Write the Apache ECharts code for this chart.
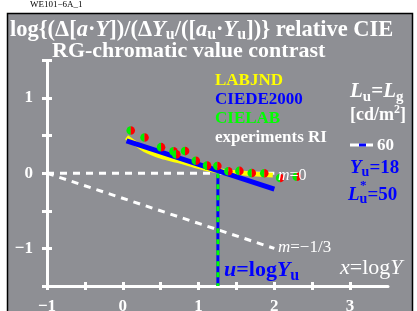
<!DOCTYPE html>
<html>
<head>
<meta charset="utf-8">
<script src="https://cdn.jsdelivr.net/npm/echarts@6/dist/echarts.min.js"></script>
<style>
  html, body { margin: 0; padding: 0; background: #ffffff; }
  #main { width: 417px; height: 311px; }
</style>
</head>
<body>
<div id="main"></div>
<script>
// axis ticks and labels
var xTicks = [-1, -0.5, 0, 0.5, 1, 1.5, 2, 2.5, 3];
var xLabels = [-1, 0, 1, 2, 3];
var yTicks = [-1.5, -1, -0.5, 0, 0.5, 1, 1.5];
var yLabels = [-1, 0, 1];

// experiments RI (red/green dots)
var expX = [0.105, 0.287, 0.505, 0.670, 0.706, 0.822, 0.964, 1.112, 1.248, 1.393, 1.539, 1.702, 1.867, 2.076, 2.296];
var expY = [0.568, 0.475, 0.347, 0.291, 0.251, 0.295, 0.167, 0.101, 0.097, 0.027, 0.031, 0.004, 0.0, -0.063, -0.045];

// LABJND (yellow curve)
var labjndX = [0.05, 0.19, 0.34, 0.56, 0.78, 1.02, 1.28, 1.55, 1.98];
var labjndY = [0.48, 0.38, 0.29, 0.21, 0.155, 0.085, 0.03, 0.005, -0.025];

// CIEDE2000 (blue line)
var de2000X = [0.05, 2.0];
var de2000Y = [0.43, -0.21];

// reference lines m=0 and m=-1/3
var m0X = [-1, 2];
var m0Y = [0, 0];
var m3X = [-1, 2];
var m3Y = [0, -1];

// u = log Yu, Yu = 18
var uLog = 1.255;
var uLineY = [0, -1.5];

function pairs(xs, ys) {
    var out = [];
    for (var i = 0; i < xs.length; i++) out.push([xs[i], ys[i]]);
    return out;
}
function minus(v) {
    return v < 0 ? '\u2212' + Math.abs(v) : String(v);
}

var serif = '"Liberation Serif", "DejaVu Serif", serif';
var white = '#ffffff';
var blue = '#0000ff';

function txt(x, y, text, opt) {
    opt = opt || {};
    var size = opt.size || 16;
    return {
        type: 'text',
        x: x,
        y: y,
        z: 50,
        silent: true,
        style: {
            text: text,
            fill: opt.color || white,
            font: (opt.italic ? 'italic ' : '') + (opt.bold === false ? 'normal ' : 'bold ') + size + 'px ' + serif,
            lineHeight: opt.lh || Math.round(size * 1.25),
            align: opt.align || 'left',
            verticalAlign: 'middle',
            textAlign: opt.align || 'left',
            textVerticalAlign: 'middle',
            rich: opt.rich || {}
        }
    };
}

function richSet(size, color, bold) {
    var w = bold === false ? 'normal' : 'bold';
    var ss = Math.round(size * 0.72);
    return {
        i: { fontStyle: 'italic', fontWeight: w, fontSize: size, fontFamily: serif, color: color },
        s: { fontWeight: w, fontSize: ss, fontFamily: serif, color: color, lineHeight: ss - 2, verticalAlign: 'bottom' },
        ib: { fontStyle: 'italic', fontWeight: w, fontSize: size, fontFamily: serif, color: blue },
        sb: { fontWeight: w, fontSize: ss, fontFamily: serif, color: blue, lineHeight: ss - 2, verticalAlign: 'bottom' },
        sup: { fontWeight: w, fontSize: Math.round(size * 0.65), fontFamily: serif, color: color, lineHeight: Math.round(size * 0.65) - 2, verticalAlign: 'top' }
    };
}

var chart = echarts.init(document.getElementById('main'), null, { renderer: 'canvas' });

var option = {
    backgroundColor: '#ffffff',
    animation: false,
    grid: { left: 47, right: 29, top: 60.5, bottom: 25, containLabel: false, outerBoundsMode: 'none' },
    xAxis: [{
        type: 'value',
        min: -1, max: 3.5, interval: 0.5,
        axisLine: { show: true, onZero: false, lineStyle: { color: white, width: 3 } },
        axisTick: { show: true, length: 4, customValues: xTicks, lineStyle: { color: white, width: 3 } },
        axisLabel: {
            customValues: xLabels, margin: 12, color: white,
            fontFamily: serif, fontWeight: 'bold', fontSize: 17,
            formatter: minus
        },
        splitLine: { show: false }
    }, {
        type: 'value', position: 'bottom',
        min: -1, max: 3.5, interval: 0.5,
        axisLine: { show: false, onZero: false },
        axisTick: { show: true, inside: true, length: 4, customValues: xTicks, lineStyle: { color: white, width: 3 } },
        axisLabel: { show: false },
        splitLine: { show: false }
    }],
    yAxis: [{
        type: 'value',
        min: -1.5, max: 1.5, interval: 0.5,
        axisLine: { show: true, onZero: false, lineStyle: { color: white, width: 3 } },
        axisTick: { show: true, length: 5, customValues: yTicks, lineStyle: { color: white, width: 3 } },
        axisLabel: {
            customValues: yLabels, margin: 14, color: white,
            fontFamily: serif, fontWeight: 'bold', fontSize: 17,
            formatter: minus
        },
        splitLine: { show: false }
    }, {
        type: 'value', position: 'left',
        min: -1.5, max: 1.5, interval: 0.5,
        axisLine: { show: false, onZero: false },
        axisTick: { show: true, inside: true, length: 5, customValues: yTicks, lineStyle: { color: white, width: 3 } },
        axisLabel: { show: false },
        splitLine: { show: false }
    }],
    graphic: [
        { type: 'rect', z: -100, silent: true,
          shape: { x: 7.5, y: 13.5, width: 405, height: 300 },
          style: { fill: '#8e8f94', stroke: '#000000', lineWidth: 1.5 } },
        txt(30, 5, 'WE101\u22126A_1', { size: 9, bold: false, color: '#000000' }),
        txt(10, 30, 'log{(\u0394[{i|a}\u00b7{i|Y}])/(\u0394{i|Y}{s|u}/([{i|a}{s|u}\u00b7{i|Y}{s|u}])} relative CIE',
            { size: 22.5, lh: 26, rich: richSet(22.5, white) }),
        txt(52, 51, 'RG-chromatic value contrast', { size: 22 }),
        txt(215, 81, 'LABJND', { size: 17, color: '#ffff00' }),
        txt(215, 100, 'CIEDE2000', { size: 17, color: blue }),
        txt(215, 119, 'CIELAB', { size: 17, color: '#00ff00' }),
        txt(215, 138, 'experiments RI', { size: 17 }),
        txt(350, 92, '{i|L}{s|u}={ib|L}{sb|g}', { size: 21, lh: 25, rich: richSet(21, white) }),
        txt(350, 115, '[cd/m{sup|2}]', { size: 18, lh: 22, rich: richSet(18, white) }),
        { type: 'rect', z: 50, silent: true, shape: { x: 350, y: 143.5, width: 23, height: 3 }, style: { fill: white } },
        { type: 'rect', z: 51, silent: true, shape: { x: 359, y: 143.5, width: 7, height: 3 }, style: { fill: blue } },
        txt(377, 146, '60', { size: 17 }),
        txt(350, 168, '{ib|Y}{sb|u}=18', { size: 19, lh: 23, color: blue, rich: richSet(19, blue) }),
        txt(348, 195, '{ib|L}{sb|u}=50', { size: 19, lh: 23, color: blue, rich: richSet(19, blue) }),
        txt(360, 186, '*', { size: 13, color: blue }),
        txt(278, 176, '{i|m}=0', { size: 16, bold: false, rich: richSet(16, white, false) }),
        txt(278, 248, '{i|m}=\u22121/3', { size: 17, bold: false, rich: richSet(17, white, false) }),
        txt(224, 270, '{ib|u}=log{ib|Y}{sb|u}', { size: 22, lh: 27, color: blue, rich: richSet(22, blue) }),
        txt(340, 268, '{i|x}=log{i|Y}', { size: 22, bold: false, rich: richSet(22, white, false) })
    ],
    series: [{
        name: 'm=0', type: 'line', symbol: 'none', z: 3,
        data: pairs(m0X, m0Y),
        lineStyle: { color: white, width: 3, type: [7, 6] }
    }, {
        name: 'm=-1/3', type: 'line', symbol: 'none', z: 3,
        data: pairs(m3X, m3Y),
        lineStyle: { color: white, width: 3, type: [7, 6] }
    }, {
        name: 'u blue', type: 'line', symbol: 'none', z: 4,
        data: pairs([uLog, uLog], uLineY),
        lineStyle: { color: blue, width: 3 }
    }, {
        name: 'u green', type: 'line', symbol: 'none', z: 5,
        data: pairs([uLog, uLog], uLineY),
        lineStyle: { color: '#00ff00', width: 3, type: [5, 6] }
    }, {
        name: 'LABJND', type: 'line', symbol: 'none', smooth: true, z: 6,
        data: pairs(labjndX, labjndY),
        lineStyle: { color: '#ffff00', width: 5 }
    }, {
        name: 'CIEDE2000', type: 'line', symbol: 'none', z: 7,
        data: pairs(de2000X, de2000Y),
        lineStyle: { color: blue, width: 5 }
    }, {
        name: 'experiments RI', type: 'custom', z: 10,
        data: pairs(expX, expY),
        encode: { x: 0, y: 1 },
        renderItem: function (params, api) {
            var p = api.coord([api.value(0), api.value(1)]);
            return {
                type: 'group',
                children: [{
                    type: 'sector',
                    shape: { cx: p[0], cy: p[1], r: 4.3, r0: 0, startAngle: Math.PI / 2, endAngle: Math.PI * 1.5 },
                    style: { fill: '#00ee00' }
                }, {
                    type: 'sector',
                    shape: { cx: p[0], cy: p[1], r: 4.3, r0: 0, startAngle: -Math.PI / 2, endAngle: Math.PI / 2 },
                    style: { fill: '#ff0000' }
                }]
            };
        }
    }]
};
chart.setOption(option);
</script>
</body>
</html>
